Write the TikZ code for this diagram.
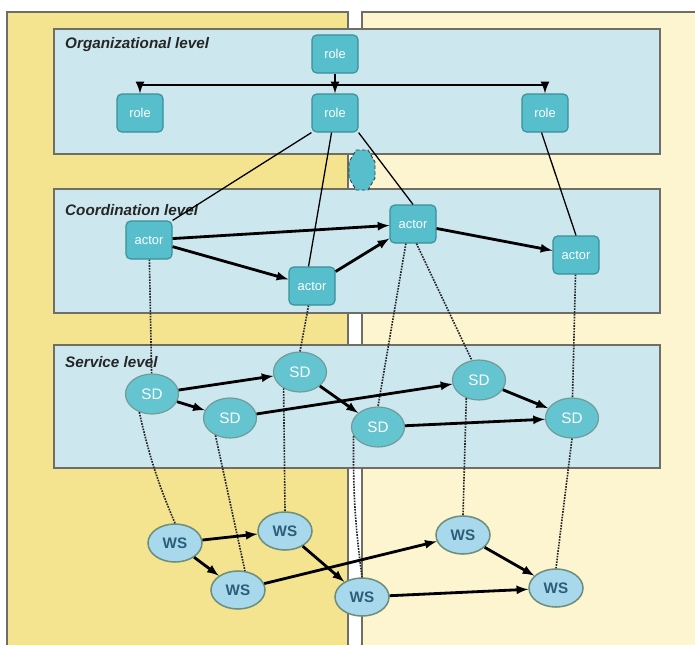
\documentclass[tikz,border=0pt]{standalone}
\usepackage{fontspec}
\setsansfont{Liberation Sans}
\usetikzlibrary{shapes.geometric}

\definecolor{panelleft}{HTML}{F4E48F}
\definecolor{panelright}{HTML}{FCF5D0}
\definecolor{levelfill}{HTML}{CDE7EF}
\definecolor{levelline}{HTML}{6E6E66}
\definecolor{tealfill}{HTML}{56BFCB}
\definecolor{tealline}{HTML}{3A8F98}
\definecolor{sdline}{HTML}{6E9C98}
\definecolor{wsfill}{HTML}{A8D8EC}
\definecolor{wsline}{HTML}{6E8E7C}
\definecolor{wstext}{HTML}{2B5E78}

\tikzset{
  levelbox/.style={fill=levelfill, draw=levelline, line width=1.4pt},
  leveltitle/.style={anchor=west, inner sep=0pt, text=black!85,
    font=\sffamily\bfseries\itshape\fontsize{13}{15}\selectfont},
  rolebox/.style={rectangle, rounded corners=4pt, fill=tealfill, draw=tealline,
    line width=1pt, minimum width=1.38cm, minimum height=1.14cm, inner sep=0pt,
    text=white, font=\sffamily\fontsize{11}{12}\selectfont},
  sdnode/.style={ellipse, fill=tealfill!92!white, draw=sdline, line width=1pt,
    minimum width=1.59cm, minimum height=1.2cm, inner sep=0pt,
    text=white, font=\sffamily\fontsize{13}{14}\selectfont},
  wsnode/.style={ellipse, fill=wsfill, draw=wsline, line width=1.3pt,
    minimum width=1.62cm, minimum height=1.14cm, inner sep=0pt,
    text=wstext, font=\sffamily\bfseries\fontsize{13}{14}\selectfont},
  flow/.style={line width=2.4pt, -latex},
  realise/.style={line width=1.4pt, black!85, densely dotted},
  assign/.style={line width=1.1pt}
}

\begin{document}
\begin{tikzpicture}[x=0.03cm, y=-0.03cm]
            \useasboundingbox (0,0) rectangle (695,645);

            % panels
            \fill[panelleft] (7,12) rectangle (348,645);
            \fill[panelright] (362,12) rectangle (695,645);
            \draw[levelline, line width=1.6pt] (7,645) -- (7,12) -- (348,12) -- (348,645);
            \draw[levelline, line width=1pt] (362,645) -- (362,12) -- (695,12);

            % levels
            \draw[levelbox] (54,29) rectangle (660,154);
            \draw[levelbox] (54,189) rectangle (660,313);
            \draw[levelbox] (54,345) rectangle (660,468);
            \node[leveltitle] (orgtitle) at (65,45) {Organizational level};
            \node[leveltitle] (coordtitle) at (65,210) {Coordination level};
            \node[leveltitle] (servtitle) at (65,362) {Service level};

            \filldraw[fill=tealfill, draw=black!75, densely dashed, line width=0.8pt]
              (356,150) -- (368,150) -- (375,162) -- (375,178) -- (368,190)
              -- (356,190) -- (349,178) -- (349,162) -- cycle;

            % roles
            \node[rolebox] (rt) at (335,54) {role};
            \node[rolebox] (rl) at (140,113) {role};
            \node[rolebox] (rm) at (335,113) {role};
            \node[rolebox] (rr) at (545,113) {role};
            \coordinate (bar) at (335,85);

            % actors
            \node[rolebox] (a1) at (149,240) {actor};
            \node[rolebox] (a2) at (312,286) {actor};
            \node[rolebox] (a3) at (413,224) {actor};
            \node[rolebox] (a4) at (576,255) {actor};

            % service descriptions
            \node[sdnode] (sd1) at (152,394) {SD};
            \node[sdnode] (sd2) at (300,372) {SD};
            \node[sdnode] (sd3) at (230,418) {SD};
            \node[sdnode] (sd4) at (479,380) {SD};
            \node[sdnode] (sd5) at (378,427) {SD};
            \node[sdnode] (sd6) at (572,418) {SD};

            % web services
            \node[wsnode] (ws1) at (175,543) {WS};
            \node[wsnode] (ws2) at (285,531) {WS};
            \node[wsnode] (ws3) at (238,590) {WS};
            \node[wsnode] (ws4) at (463,535) {WS};
            \node[wsnode] (ws5) at (362,597) {WS};
            \node[wsnode] (ws6) at (556,588) {WS};

            % organisation
            \draw[line width=2.4pt, -latex] (rt) -- (rm);
            \draw[line width=2.4pt, latex-latex] (rl.north) |- (bar) -| (rr.north);

            \draw[assign] (rm.south west) -- (a1.north east);
            \draw[assign] (rm.-100) -- (a2.100);
            \draw[assign] (rm.south east) -- (a3.north);
            \draw[assign] (rr.-100) -- (a4.north);

            \draw[flow] (a1) -- (a3);
            \draw[flow] (a1) -- (a2);
            \draw[flow] (a2) -- (a3);
            \draw[flow] (a3) -- (a4);

            \draw[realise] (a1) -- (sd1);
            \draw[realise] (a2.-100) -- (sd2.north);
            \draw[realise] (a3.-110) -- (sd5.north);
            \draw[realise] (a3.-80) -- (sd4.110);
            \draw[realise] (a4) -- (sd6);

            \draw[flow] (sd1) -- (sd2);
            \draw[flow] (sd1) -- (sd3);
            \draw[flow] (sd2) -- (sd5);
            \draw[flow] (sd3) -- (sd4);
            \draw[flow] (sd4) -- (sd6);
            \draw[flow] (sd5) -- (sd6);

            \draw[realise] (sd1.235) to[bend right=5] (ws1.north);
            \draw[realise] (sd2.225) -- (ws2.north);
            \draw[realise] (sd3.230) -- (ws3.70);
            \draw[realise] (sd4.235) -- (ws4.north);
            \draw[realise] (sd5.200) to[bend right=4] (ws5.north);
            \draw[realise] (sd6.south) -- (ws6.north);

            \draw[flow] (ws1) -- (ws2);
            \draw[flow] (ws1) -- (ws3);
            \draw[flow] (ws2) -- (ws5);
            \draw[flow] (ws3) -- (ws4);
            \draw[flow] (ws4) -- (ws6);
            \draw[flow] (ws5) -- (ws6);
        \end{tikzpicture}
\end{document}
